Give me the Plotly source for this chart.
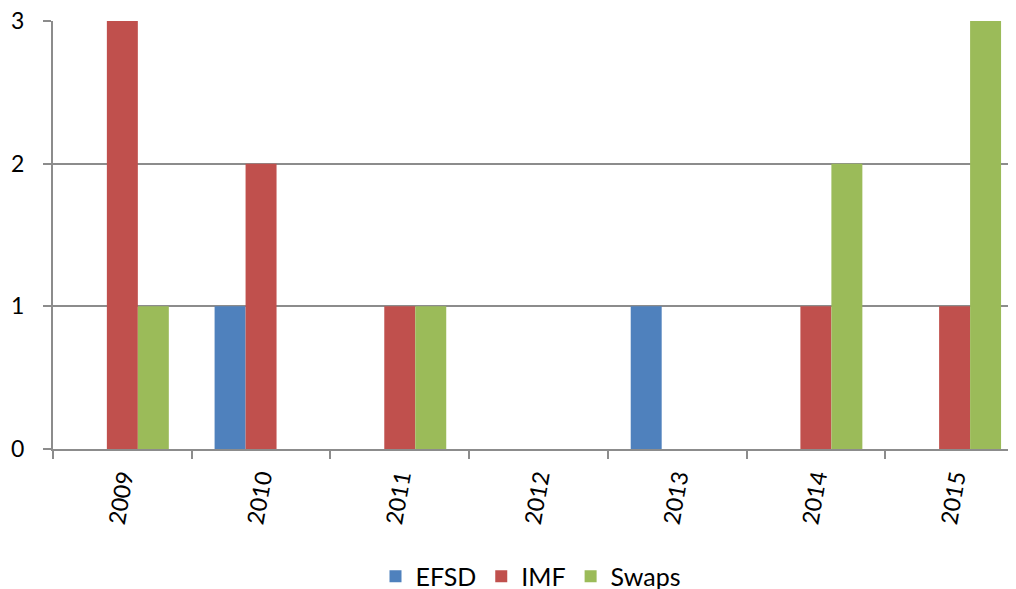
import plotly.graph_objects as go

YEARS = ["2009", "2010", "2011", "2012", "2013", "2014", "2015"]
EFSD = [0, 1, 0, 0, 1, 0, 0]
IMF = [3, 2, 1, 0, 0, 1, 1]
SWAPS = [1, 0, 1, 0, 0, 2, 3]

COLORS = {"EFSD": "#4F81BD", "IMF": "#C0504D", "Swaps": "#9BBB59"}
FONT = "Lato"
GRID = "#8C8C8C"

fig = go.Figure()
for name, vals in [("EFSD", EFSD), ("IMF", IMF), ("Swaps", SWAPS)]:
    fig.add_trace(go.Bar(
        x=YEARS, y=vals, name=name,
        marker=dict(color=COLORS[name], line=dict(width=0)),
    ))

# page body has an 8px margin, margins below are offset for it
fig.update_layout(
    width=1016, height=589,
    margin=dict(l=45, r=16, t=13, b=148),
    paper_bgcolor="white", plot_bgcolor="white",
    barmode="group", bargap=0.33, bargroupgap=0,
    font=dict(family=FONT, size=23, color="black"),
    showlegend=True,
    legend=dict(orientation="h", x=0.5, xanchor="center",
                yref="container", y=0.035, yanchor="middle",
                font=dict(size=25), itemwidth=30, traceorder="normal"),
)
fig.update_xaxes(
    type="category", range=[-0.5, 6.385], tickson="boundaries",
    showline=True, linecolor=GRID, linewidth=2,
    ticks="outside", ticklen=8, tickcolor=GRID, tickwidth=2,
    tickangle=-80, showgrid=False, tickfont=dict(size=23),
    ticklabelstandoff=4, automargin=False,
)
fig.update_yaxes(
    range=[0, 3], dtick=1, showgrid=True, gridcolor=GRID, gridwidth=2,
    showline=True, linecolor=GRID, linewidth=2,
    ticks="outside", ticklen=8, tickcolor=GRID, tickwidth=2,
    zeroline=False, tickfont=dict(size=23),
    ticklabelstandoff=14, automargin=False, ticklabeloverflow="allow",
)

fig.write_html("out.html")
